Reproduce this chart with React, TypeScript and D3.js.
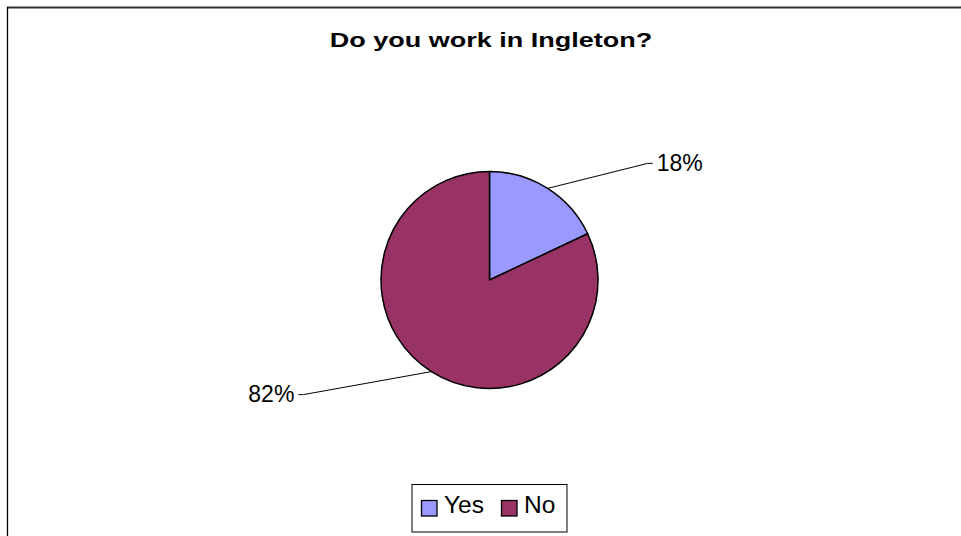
import React from "react";
import * as d3 from "d3";

const categories = ["Yes", "No"];
const values = [18, 82];
const colors = ["#9999FF", "#993366"];
const title = "Do you work in Ingleton?";

// label layout: offset from slice edge point to leader elbow, and text side
const labelLayout = [
  { dx: 100, dy: -25, hook: 5, anchor: "start" },
  { dx: -128, dy: 23, hook: -5, anchor: "end" },
];

const W = 961;
const H = 536;
const FONT = "'Liberation Sans', Arial, sans-serif";

export default function App() {
  const cx = 489.5;
  const cy = 280;
  const r = 108.5;
  const total = d3.sum(values);
  const pie = d3.pie<number>().sort(null).value((d) => d)(values);
  const arc = d3.arc<d3.PieArcDatum<number>>().innerRadius(0).outerRadius(r);
  const titleScale = 1.35;

  return (
    <svg
      width={W}
      height={H}
      style={{ position: "absolute", left: 0, top: 0, background: "#fff" }}
    >
      {/* chart frame (only top and left visible) */}
      <line x1={7} y1={7.5} x2={W} y2={7.5} stroke="#333" strokeWidth={2} />
      <line x1={7.5} y1={7} x2={7.5} y2={H} stroke="#000" strokeWidth={1.3} />

      <g transform={`translate(491,46.5) scale(${titleScale},1)`}>
        <text
          x={0}
          y={0}
          textAnchor="middle"
          fontFamily={FONT}
          fontWeight="bold"
          fontSize={20}
          fill="#000"
        >
          {title}
        </text>
      </g>

      <g transform={`translate(${cx},${cy})`}>
        {pie.map((p, i) => (
          <path
            key={categories[i]}
            d={arc(p) || ""}
            fill={colors[i]}
            stroke="#000"
            strokeWidth={1.5}
            strokeLinejoin="round"
          />
        ))}
      </g>

      {pie.map((p, i) => {
        const mid = (p.startAngle + p.endAngle) / 2;
        const x0 = cx + r * Math.sin(mid);
        const y0 = cy - r * Math.cos(mid);
        const L = labelLayout[i];
        const x1 = x0 + L.dx;
        const y1 = y0 + L.dy;
        const x2 = x1 + L.hook;
        const pct = Math.round((values[i] / total) * 100) + "%";
        return (
          <g key={"lab" + i}>
            <polyline
              points={`${x0},${y0} ${x1},${y1} ${x2},${y1}`}
              fill="none"
              stroke="#000"
              strokeWidth={1}
            />
            <text
              x={x2 + (L.anchor === "start" ? 4 : -4)}
              y={y1 + 7.5}
              textAnchor={L.anchor as any}
              fontFamily={FONT}
              fontSize={23}
              fill="#000"
            >
              {pct}
            </text>
          </g>
        );
      })}

      {/* legend */}
      <rect x={412} y={484.5} width={155} height={47.5} fill="#fff" stroke="#000" strokeWidth={1} />
      {categories.map((c, i) => {
        const xs = [421, 501];
        const xt = [444, 524];
        return (
          <g key={"leg" + c}>
            <rect x={xs[i] + 0.5} y={500.5} width={15.5} height={15.5} fill={colors[i]} stroke="#000" strokeWidth={1.3} />
            <text x={xt[i]} y={513} fontFamily={FONT} fontSize={24.5} fill="#000">
              {c}
            </text>
          </g>
        );
      })}
    </svg>
  );
}
